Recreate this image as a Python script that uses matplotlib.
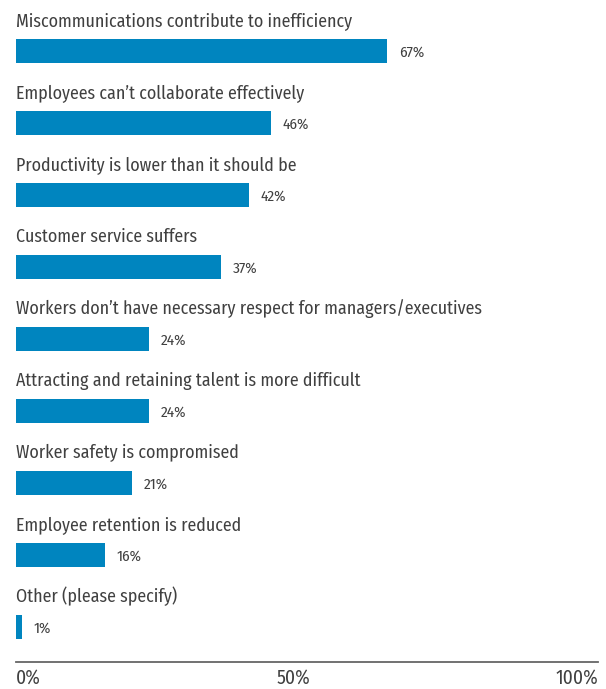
import matplotlib
matplotlib.use("Agg")
import matplotlib.pyplot as plt

categories = [
    "Miscommunications contribute to inefficiency",
    "Employees can\u2019t collaborate effectively",
    "Productivity is lower than it should be",
    "Customer service suffers",
    "Workers don\u2019t have necessary respect for managers/executives",
    "Attracting and retaining talent is more difficult",
    "Worker safety is compromised",
    "Employee retention is reduced",
    "Other (please specify)",
]
values = [67, 46, 42, 37, 24, 24, 21, 16, 1]
tick_labels = ["0%", "50%", "100%"]

plt.rcParams['font.family'] = ['Fira Sans Condensed', 'Roboto Condensed', 'DejaVu Sans']

BAR = "#0085BF"
TXT = "#404040"

fig = plt.figure(figsize=(6.06, 6.89), dpi=100)
ax = fig.add_axes([16/606, 27/689, 582/606, 662/689])
ax.set_xlim(0, 582/5.54)
ax.set_ylim(611/72, -51/72)

ypos = list(range(len(values)))
ax.barh(ypos, values, height=24/72, color=BAR, left=0)
for y, v, c in zip(ypos, values, categories):
    ax.text(0, y - 0.35, c, ha='left', va='baseline', fontsize=12.9,
            fontweight='normal', color=TXT)
    ax.text(v + 2.1, y + 0.02, f"{v}%", ha='left', va='center', fontsize=11,
            fontweight='normal', color=TXT)

for s in ['top', 'right', 'left']:
    ax.spines[s].set_visible(False)
ax.spines['bottom'].set_color('#666666')
ax.spines['bottom'].set_linewidth(1.3)
ax.set_yticks([])
ax.set_xticks([0, 50, ax.get_xlim()[1]])
ax.set_xticklabels(tick_labels, fontsize=14, color=TXT)
ax.tick_params(axis='x', length=0, pad=4.5)
labs = ax.get_xticklabels()
labs[0].set_ha('left')
labs[-1].set_ha('right')

fig.savefig("out.png", dpi=100)
